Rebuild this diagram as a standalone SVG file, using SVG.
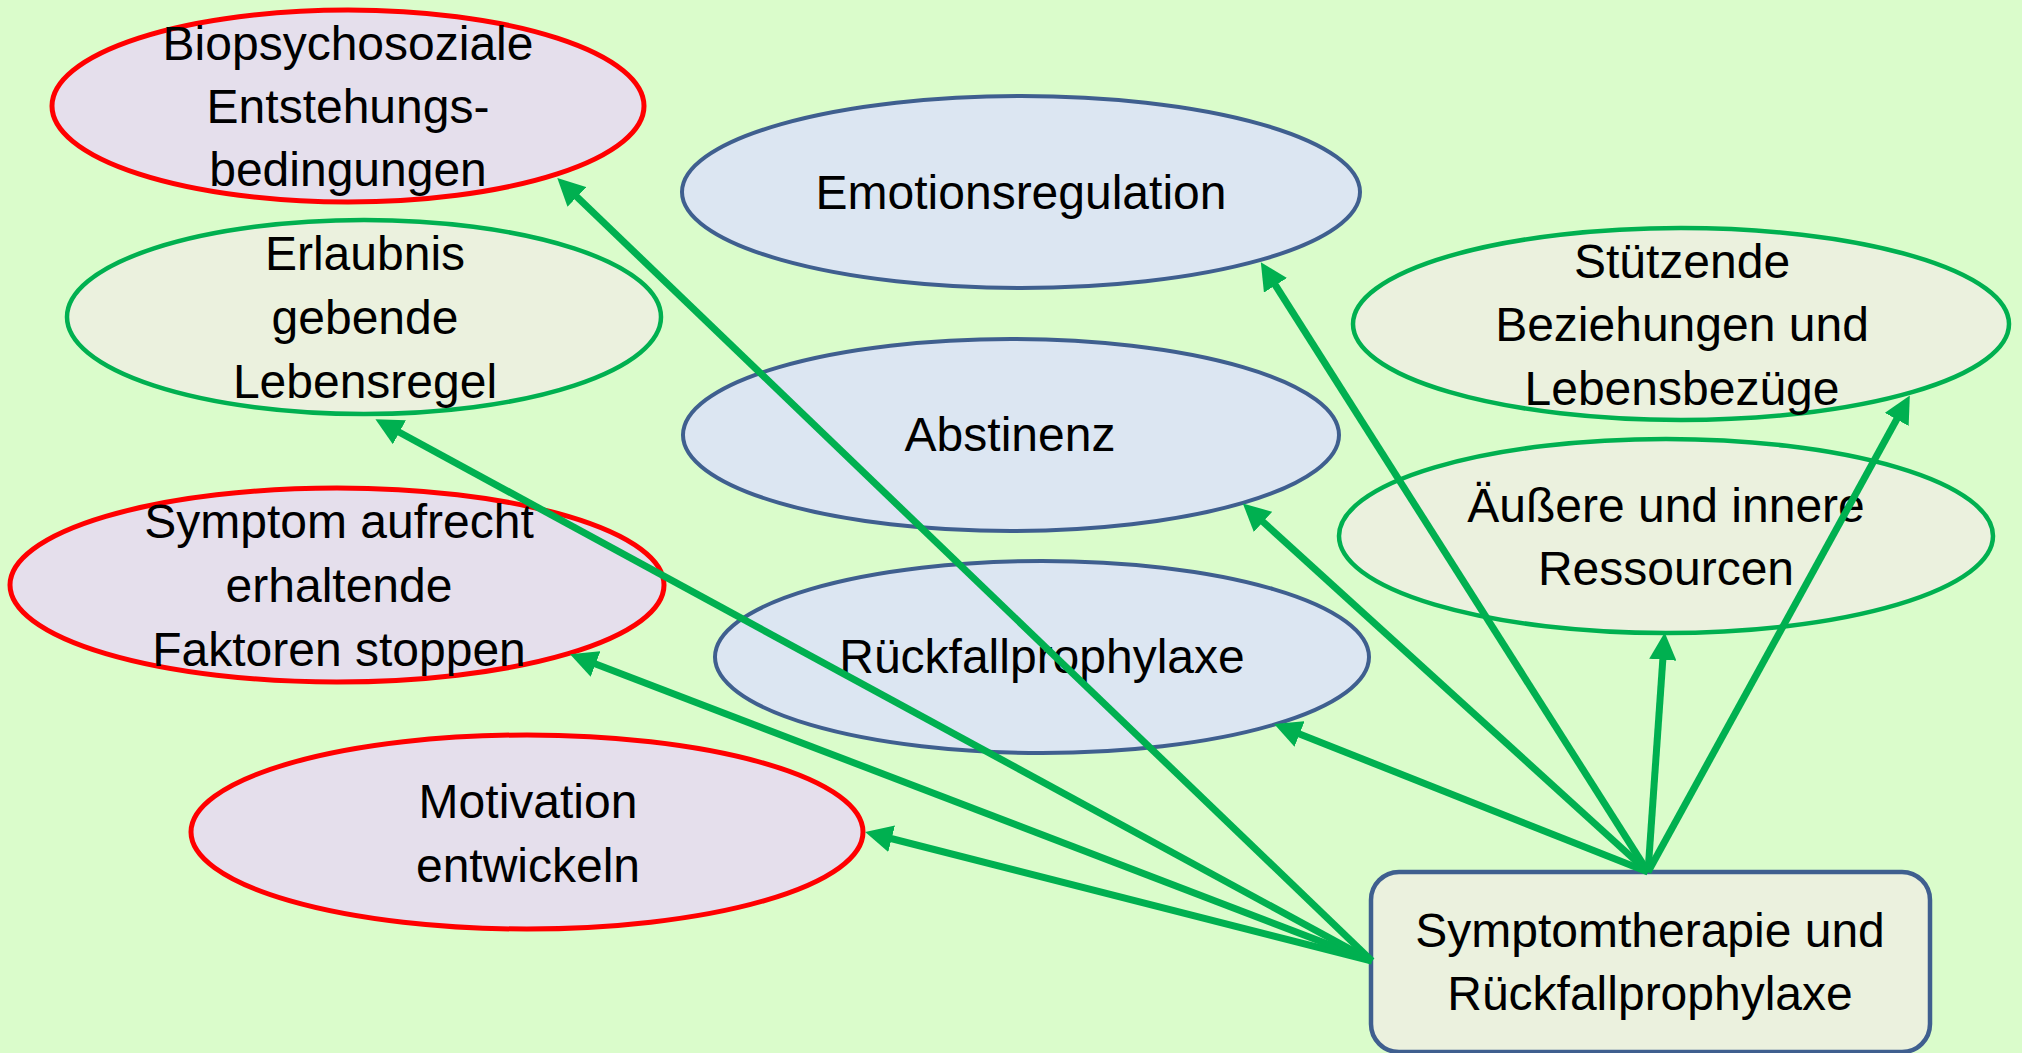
<svg xmlns="http://www.w3.org/2000/svg" width="2022" height="1053" viewBox="0 0 2022 1053">
<style>
text{font-family:"Liberation Sans",Arial,sans-serif;font-size:48px;fill:#000;text-anchor:middle}
.red{fill:#E5DFEC;stroke:#FF0000;stroke-width:5}
.grn{fill:#EBF1DE;stroke:#00B050;stroke-width:4.5}
.blu{fill:#DCE6F2;stroke:#3F5F8F;stroke-width:4}
.box{fill:#EBF1DE;stroke:#3F5F8F;stroke-width:4.5}
.arr{stroke:#00B050;stroke-width:7;fill:none;marker-end:url(#ah)}
</style>
<defs>
<marker id="ah" viewBox="0 0 10 10" markerWidth="3.9" markerHeight="3.9" refX="1" refY="5" orient="auto" markerUnits="strokeWidth">
<path d="M0,0 L10,5 L0,10 z" fill="#00B050"/>
</marker>
</defs>
<rect width="2022" height="1053" fill="#DAFCCB"/>
<g id="n-bio"><ellipse class="red" cx="348" cy="106" rx="296" ry="96"/><text x="348" y="60">Biopsychosoziale</text><text x="348" y="123">Entstehungs-</text><text x="348" y="186">bedingungen</text></g>
<g id="n-erlaubnis"><ellipse class="grn" cx="364" cy="317" rx="297" ry="97"/><text x="365" y="270">Erlaubnis</text><text x="365" y="334">gebende</text><text x="365" y="398">Lebensregel</text></g>
<g id="n-symptom"><ellipse class="red" cx="337" cy="585" rx="327" ry="97"/><text x="339" y="538">Symptom aufrecht</text><text x="339" y="602">erhaltende</text><text x="339" y="666">Faktoren stoppen</text></g>
<g id="n-motivation"><ellipse class="red" cx="527" cy="832" rx="336" ry="97"/><text x="528" y="818">Motivation</text><text x="528" y="882">entwickeln</text></g>
<g id="n-emotion"><ellipse class="blu" cx="1021" cy="192" rx="339" ry="96"/><text x="1021" y="209">Emotionsregulation</text></g>
<g id="n-abstinenz"><ellipse class="blu" cx="1011" cy="435" rx="328" ry="96"/><text x="1010" y="451">Abstinenz</text></g>
<g id="n-rueckfall"><ellipse class="blu" cx="1042" cy="657" rx="327" ry="96"/><text x="1042" y="673">Rückfallprophylaxe</text></g>
<g id="n-stuetzende"><ellipse class="grn" cx="1681" cy="324" rx="328" ry="96"/><text x="1682" y="278">Stützende</text><text x="1682" y="341">Beziehungen und</text><text x="1682" y="405">Lebensbezüge</text></g>
<g id="n-ressourcen"><ellipse class="grn" cx="1666" cy="536" rx="327" ry="97"/><text x="1666" y="522">Äußere und innere</text><text x="1666" y="585">Ressourcen</text></g>
<g id="n-box"><rect class="box" x="1371" y="872" width="559" height="180" rx="28" ry="28"/><text x="1650" y="947">Symptomtherapie und</text><text x="1650" y="1010">Rückfallprophylaxe</text></g>
<g id="connectors">
<line class="arr" x1="1648" y1="872" x2="1274" y2="283"/>
<line class="arr" x1="1648" y1="872" x2="1261" y2="520"/>
<line class="arr" x1="1648" y1="872" x2="1297" y2="733"/>
<line class="arr" x1="1648" y1="872" x2="1663" y2="657"/>
<line class="arr" x1="1648" y1="872" x2="1898" y2="417"/>
<line class="arr" x1="1372" y1="961" x2="889" y2="838"/>
<line class="arr" x1="1372" y1="961" x2="593" y2="663"/>
<line class="arr" x1="1372" y1="961" x2="397" y2="431"/>
<line class="arr" x1="1372" y1="961" x2="575" y2="195"/>
</g>
</svg>
